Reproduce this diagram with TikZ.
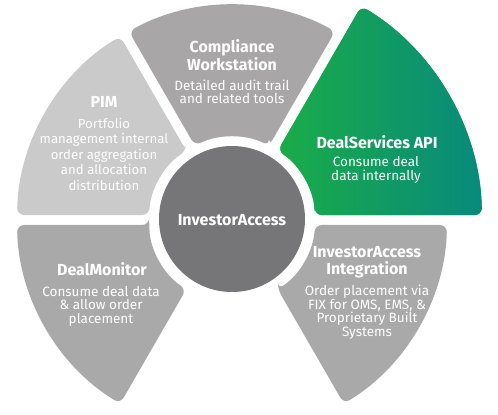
\documentclass[tikz,border=0pt]{standalone}
\usepackage{fontspec}
\setmainfont{Fira Sans}
\definecolor{pimgray}{RGB}{202,202,202}
\definecolor{midgray}{RGB}{168,166,167}
\definecolor{botgray}{RGB}{169,169,169}
\definecolor{hubgray}{RGB}{118,118,120}
\definecolor{greenL}{RGB}{26,172,72}
\definecolor{greenR}{RGB}{8,138,124}
\def\ri{83}
\def\hg{5}
\newcommand\mysector[4][]{%
  \pgfmathsetmacro\sA{#2+asin(\hg/\ri)}%
  \pgfmathsetmacro\sB{#2+asin(\hg/#4)}%
  \pgfmathsetmacro\sC{#3-asin(\hg/#4)}%
  \pgfmathsetmacro\sD{#3-asin(\hg/\ri)}%
  \path[#1,rounded corners=7pt] (\sA:\ri pt) -- (\sB:#4 pt)
    arc[start angle=\sB,end angle=\sC,radius=#4 pt] -- (\sD:\ri pt)
    arc[start angle=\sD,end angle=\sA,radius=\ri pt] -- cycle;}
\tikzset{
  ttl/.style={text=white,font=\bfseries\fontsize{16}{16.5}\selectfont,align=center,inner sep=0pt},
  dsc/.style={text=white,font=\fontsize{13.5}{13.5}\selectfont,align=center,inner sep=0pt},
}
\begin{document}
\begin{tikzpicture}[x=1pt,y=1pt]
\useasboundingbox (-232,-195) rectangle (266,220);
\fill[white] (-232,-195) rectangle (266,220);
% segments
\mysector[fill=greenL,left color=greenL,right color=greenR]{0}{60}{250}
\mysector[fill=midgray]{60}{120}{215}
\mysector[fill=pimgray]{120}{180}{215}
\mysector[fill=botgray]{180}{240}{215}
\mysector[fill=botgray]{300}{360}{215}
% hub
\node[circle,fill=hubgray,minimum size=146pt,inner sep=0pt] (hub) at (0,1) {};
\node[ttl] (hubtxt) at (0,0) {InvestorAccess};
% texts
\node[ttl] (cwt) at (0,165) {Compliance\\Workstation};
\node[dsc] (cwd) at (0,128) {Detailed audit trail\\and related tools};
\node[ttl] (pimt) at (-128,118) {PIM};
\node[dsc,font=\fontsize{13.2}{15.5}\selectfont] (pimd) at (-128,66) {Portfolio\\management internal\\order aggregation\\and allocation\\distribution};
\node[ttl] (dst) at (145,78) {DealServices API};
\node[dsc] (dsd) at (144,50) {Consume deal\\data internally};
\node[ttl] (dmt) at (-130,-49) {DealMonitor};
\node[dsc] (dmd) at (-131,-86) {Consume deal data\\\& allow order\\placement};
\node[ttl] (iit) at (135,-42) {InvestorAccess\\Integration};
\node[dsc] (iid) at (135,-92) {Order placement via\\FIX for OMS, EMS, \&\\Proprietary Built\\Systems};
\end{tikzpicture}
\end{document}
